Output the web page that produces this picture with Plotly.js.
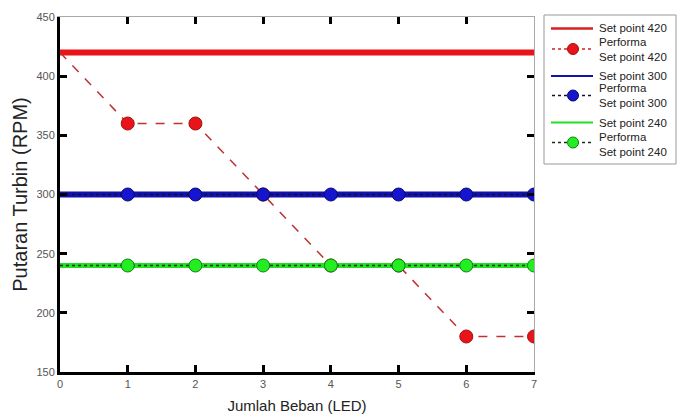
<!DOCTYPE html>
<html>
<head>
<meta charset="utf-8">
<script src="https://cdn.plot.ly/plotly-3.0.1.min.js"></script>
<style>body{margin:0;background:#fff}#chart{width:680px;height:419px}</style>
</head>
<body>
<div id="chart"></div>
<script>
const loads = [0, 1, 2, 3, 4, 5, 6, 7];
const setpoint420 = [420, 420, 420, 420, 420, 420, 420, 420];
const performa420 = [420, 360, 360, 300, 240, 240, 180, 180];
const setpoint300 = [300, 300, 300, 300, 300, 300, 300, 300];
const performa300 = [300, 300, 300, 300, 300, 300, 300, 300];
const setpoint240 = [240, 240, 240, 240, 240, 240, 240, 240];
const performa240 = [240, 240, 240, 240, 240, 240, 240, 240];
const xTicks = [0, 1, 2, 3, 4, 5, 6, 7];
const yTicks = [150, 200, 250, 300, 350, 400, 450];
const legendNames = ['Set point 420', 'Performa<br>Set point 420', 'Set point 300',
  'Performa<br>Set point 300', 'Set point 240', 'Performa<br>Set point 240'];

const msize = loads.map((v, i) => i === 0 ? 0 : 13);
const font = "'Liberation Sans', Arial, sans-serif";
const red = '#e8141a', blue = '#1212b0', green = '#22e022';

function setLine(name, y, color, width) {
  return {x: loads, y: y, name: name, mode: 'lines', showlegend: false, hoverinfo: 'skip',
    line: {color: color, width: width}};
}
function perfLine(name, y, lcolor, dash, mcolor, ocolor) {
  return {x: loads, y: y, name: name, mode: 'lines+markers', showlegend: false, hoverinfo: 'skip',
    line: {color: lcolor, width: 1.5, dash: dash},
    marker: {color: mcolor, size: msize, opacity: 1, line: {color: ocolor, width: 1}}};
}
const traces = [
  setLine(legendNames[0], setpoint420, red, 6),
  perfLine(legendNames[1], performa420, '#c03030', 'dash', red, '#a01010'),
  setLine(legendNames[2], setpoint300, blue, 6),
  perfLine(legendNames[3], performa300, '#101030', 'dot', '#1515d0', '#0a0a70'),
  setLine(legendNames[4], setpoint240, green, 5),
  perfLine(legendNames[5], performa240, '#103010', 'dot', '#22ee22', '#108010'),
  {x: [0, 7], y: [150, 450], xaxis: 'x2', yaxis: 'y2', mode: 'none', showlegend: false, hoverinfo: 'skip'}
];

// ---- hand-drawn legend box (pixel layout -> paper coords) ----
const M = {l: 60, r: 146, t: 17, b: 47}, W = 680, H = 419;
const PW = W - M.l - M.r, PH = H - M.t - M.b;
const px = v => (v - M.l) / PW;
const py = v => (H - M.b - v) / PH;

const legRows = [
  {kind: 'line', y: 28.5, lines: [28.5], color: '#d82020', width: 2.5},
  {kind: 'perf', y: 49, lines: [42, 57.5], lcolor: '#d02020', mcolor: red, ocolor: '#a01010'},
  {kind: 'line', y: 76, lines: [76], color: blue, width: 2},
  {kind: 'perf', y: 95.5, lines: [88.5, 103], lcolor: '#101030', mcolor: '#1515d0', ocolor: '#0a0a70'},
  {kind: 'line', y: 122.5, lines: [122.5], color: green, width: 2},
  {kind: 'perf', y: 142.5, lines: [137, 151.5], lcolor: '#103010', mcolor: '#22ee22', ocolor: '#108010'},
];
const shapes = [{type: 'rect', xref: 'paper', yref: 'paper',
  x0: px(544), x1: px(676), y0: py(15), y1: py(164),
  fillcolor: '#fff', line: {color: '#999', width: 1}, layer: 'above'}];
const annotations = [];
legRows.forEach((r, i) => {
  if (r.kind === 'line') {
    shapes.push({type: 'line', xref: 'paper', yref: 'paper', x0: px(551), x1: px(593),
      y0: py(r.y), y1: py(r.y), line: {color: r.color, width: r.width}, layer: 'above'});
  } else {
    shapes.push({type: 'line', xref: 'paper', yref: 'paper', x0: px(552), x1: px(593),
      y0: py(r.y), y1: py(r.y), line: {color: r.lcolor, width: 1.5, dash: 'dot'}, layer: 'above'});
    shapes.push({type: 'circle', xref: 'paper', yref: 'paper', x0: px(567.5), x1: px(578.5),
      y0: py(r.y + 5.5), y1: py(r.y - 5.5), fillcolor: r.mcolor,
      line: {color: r.ocolor, width: 1}, layer: 'above'});
  }
  legendNames[i].split('<br>').forEach((t, j) => {
    annotations.push({xref: 'paper', yref: 'paper', x: px(597), y: py(r.lines[j]),
      xanchor: 'left', yanchor: 'middle', text: t, showarrow: false,
      font: {size: 11.5, color: '#222', family: font}});
  });
});

const layout = {
  width: W, height: H,
  margin: Object.assign({autoexpand: false}, M),
  paper_bgcolor: '#fff', plot_bgcolor: '#fff',
  font: {family: font, color: '#444', size: 11},
  showlegend: false,
  xaxis: {
    range: [0, 7], tickvals: xTicks, ticktext: xTicks.map(String),
    showgrid: false, zeroline: false, automargin: false,
    showline: true, linecolor: '#000', linewidth: 3,
    ticks: 'inside', ticklen: 7, tickwidth: 3, tickcolor: '#000',
    tickfont: {size: 11, color: '#555', family: font},
    title: {text: 'Jumlah Beban (LED)', font: {size: 15, color: '#222', family: font}, standoff: 12}
  },
  yaxis: {
    range: [150, 450], tickvals: yTicks, ticktext: yTicks.map(String),
    showgrid: false, zeroline: false, automargin: false,
    showline: true, linecolor: '#000', linewidth: 3,
    ticks: 'inside', ticklen: 7, tickwidth: 3, tickcolor: '#000',
    tickfont: {size: 11, color: '#555', family: font},
    title: {text: 'Putaran Turbin (RPM)', font: {size: 20, color: '#222', family: font}, standoff: 4}
  },
  xaxis2: {
    overlaying: 'x', side: 'top', range: [0, 7], tickvals: xTicks,
    showticklabels: false, showgrid: false, zeroline: false,
    showline: true, linecolor: '#aaa', linewidth: 1,
    ticks: 'inside', ticklen: 7, tickwidth: 3, tickcolor: '#000'
  },
  yaxis2: {
    overlaying: 'y', side: 'right', range: [150, 450], tickvals: yTicks,
    showticklabels: false, showgrid: false, zeroline: false,
    showline: true, linecolor: '#aaa', linewidth: 1,
    ticks: 'inside', ticklen: 7, tickwidth: 3, tickcolor: '#000'
  },
  shapes: shapes,
  annotations: annotations
};

Plotly.newPlot('chart', traces, layout, {displayModeBar: false, staticPlot: true});
</script>
</body>
</html>
